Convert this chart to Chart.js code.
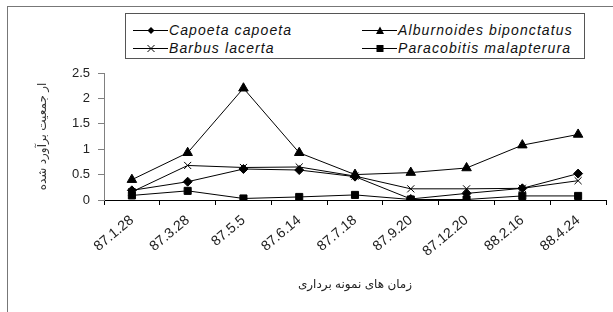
<!DOCTYPE html>
<html>
<head>
<meta charset="utf-8">
<script src="https://cdn.jsdelivr.net/npm/chart.js@4.4.1/dist/chart.umd.min.js"></script>
<style>
  body { margin: 0; background: #fff; }
  #wrap { position: relative; width: 613px; height: 312px; overflow: hidden; }
  #frame { position: absolute; left: 7px; top: 6px; width: 640px; height: 340px; border: 1px solid #777; }
  #chart { position: absolute; left: 0; top: 0; }
  #legend {
    position: absolute; left: 125px; top: 13px; width: 458px; height: 44px;
    border: 1px solid #555; background: #fff;
    font-family: "Liberation Sans", Arial, sans-serif; font-style: italic;
    font-size: 14px; letter-spacing: 1.1px; color: #111;
  }
  .item { position: absolute; height: 16px; line-height: 16px; white-space: nowrap; }
  .item svg { position: absolute; left: 0; top: 3px; }
  .item span { position: absolute; left: 36px; top: 0; }
</style>
</head>
<body>
<div id="wrap">
  <div id="frame"></div>
  <canvas id="chart" width="613" height="312"></canvas>
  <div id="legend"></div>
</div>
<script>
// --- data ---
const categories = ['87.1.28', '87.3.28', '87.5.5', '87.6.14', '87.7.18', '87.9.20', '87.12.20', '88.2.16', '88.4.24'];
const capoeta     = [0.19, 0.36, 0.61, 0.59, 0.46, 0.02, 0.13, 0.23, 0.52];
const alburnoides = [0.40, 0.93, 2.20, 0.93, 0.50, 0.54, 0.63, 1.08, 1.29];
const barbus      = [0.16, 0.68, 0.64, 0.65, 0.47, 0.22, 0.22, 0.23, 0.38];
const paracobitis = [0.09, 0.18, 0.03, 0.06, 0.10, 0.01, 0.01, 0.08, 0.08];
const seriesNames = ['Capoeta capoeta', 'Alburnoides biponctatus', 'Barbus lacerta', 'Paracobitis malapterura'];
const yTicks = [0, 0.5, 1, 1.5, 2, 2.5];
const yTitle = 'ار جمعیت برآورد شده';
const xTitle = 'زمان های نمونه برداری';

const FONT = '"Liberation Sans", Arial, "DejaVu Sans", sans-serif';

function lineSet(label, data, style, radius) {
  return {
    label: label,
    data: data,
    borderColor: '#000',
    backgroundColor: '#000',
    borderWidth: 1,
    pointStyle: style,
    pointRadius: radius,
    pointBorderWidth: 1,
    pointBorderColor: '#000',
    pointBackgroundColor: '#000',
    tension: 0
  };
}

const chart = new Chart(document.getElementById('chart'), {
  type: 'line',
  data: {
    labels: categories,
    datasets: [
      lineSet(seriesNames[0], capoeta, 'rectRot', 4.5),
      lineSet(seriesNames[1], alburnoides, 'triangle', 5.5),
      lineSet(seriesNames[2], barbus, 'crossRot', 5),
      lineSet(seriesNames[3], paracobitis, 'rect', 5)
    ]
  },
  options: {
    responsive: false,
    animation: false,
    layout: { padding: { top: 73, right: 7, left: 0, bottom: 0 } },
    plugins: { legend: { display: false }, tooltip: { enabled: false } },
    scales: {
      x: {
        offset: true,
        grid: { offset: true, drawOnChartArea: false, tickLength: 5, color: '#000' },
        border: { display: true, color: '#000', width: 1 },
        ticks: {
          minRotation: 40, maxRotation: 40, padding: 7,
          color: '#222', font: { family: FONT, size: 14 }
        },
        title: {
          display: true, text: xTitle, color: '#222',
          font: { family: FONT, size: 12 }, padding: { top: 0, bottom: 20 }
        },
        afterFit: (scale) => { scale.height = 112; }
      },
      y: {
        min: 0, max: 2.5,
        afterBuildTicks: (scale) => { scale.ticks = yTicks.map(v => ({ value: v })); },
        grid: { drawOnChartArea: false, tickLength: 6, color: '#808080' },
        border: { display: true, color: '#808080', width: 1 },
        ticks: {
          padding: 8, color: '#222', font: { family: FONT, size: 13 },
          callback: (v) => String(v)
        },
        title: {
          display: true, text: yTitle, color: '#333',
          font: { family: FONT, size: 12 }, padding: { top: 35, bottom: 0 }
        },
        afterFit: (scale) => { scale.width = 104; }
      }
    }
  }
});

// --- legend (2 x 2 grid, line + marker samples) ---
const markerSvg = {
  rectRot: '<polygon points="18,2 21.5,5.5 18,9 14.5,5.5" fill="#000"/>',
  triangle: '<polygon points="18,1.5 22,9 14,9" fill="#000"/>',
  crossRot: '<path d="M14.5,2 L21.5,9 M21.5,2 L14.5,9" stroke="#000" stroke-width="1" fill="none"/>',
  rect: '<rect x="14.5" y="2" width="7" height="7" fill="#000"/>'
};
const legendPos = [[7, 8], [236, 8], [7, 26], [236, 26]];
const legendEl = document.getElementById('legend');
chart.data.datasets.forEach((ds, i) => {
  const item = document.createElement('div');
  item.className = 'item';
  item.style.left = legendPos[i][0] + 'px';
  item.style.top = legendPos[i][1] + 'px';
  item.innerHTML =
    '<svg width="36" height="11"><line x1="0" y1="5.5" x2="35" y2="5.5" stroke="#000" stroke-width="1"/>' +
    markerSvg[ds.pointStyle] + '</svg><span>' + ds.label + '</span>';
  legendEl.appendChild(item);
});
</script>
</body>
</html>
